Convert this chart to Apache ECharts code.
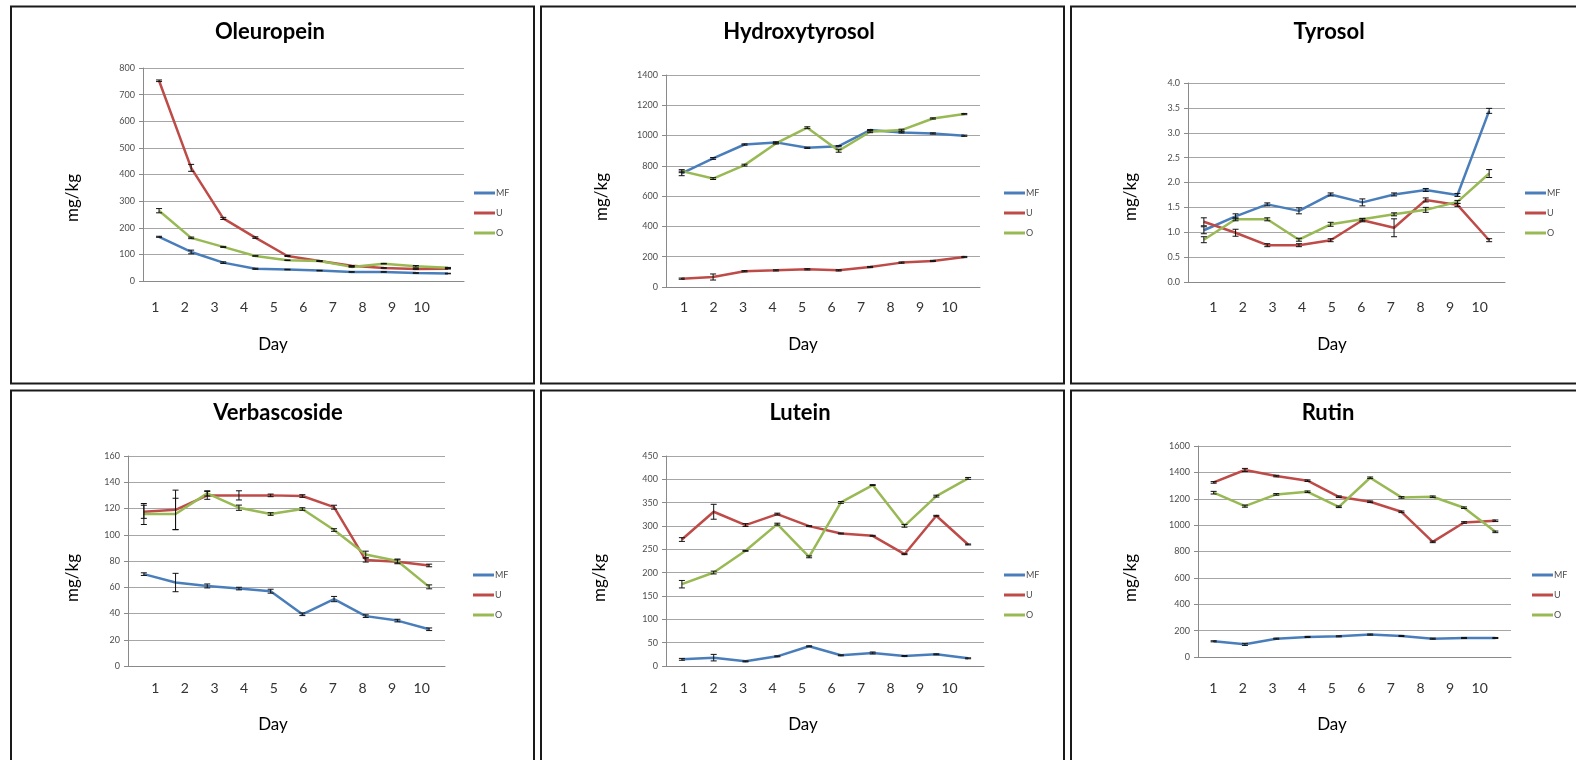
<!DOCTYPE html>
<html><head><meta charset="utf-8">
<script src="https://cdn.jsdelivr.net/npm/echarts@6/dist/echarts.min.js"></script>
<style>html,body{margin:0;padding:0;background:#fff}#c{width:1576px;height:760px}</style>
</head><body><div id="c"></div>
<script>
// ---------- data ----------
const days = ['1','2','3','4','5','6','7','8','9','10'];
const seriesNames = ['MF','U','O'];

const oleuropeinMF = [166,109,69,46,43,39,34,34,30,28];
const oleuropeinU  = [752,425,235,163,94,75,57,49,45,46];
const oleuropeinO  = [264,162,128,94,78,75,53,65,55,50];
const oleuropeinErrMF = [2,7,3,2,1,1,1,1,1,1];
const oleuropeinErrU  = [3,13,4,3,2,1,1,1,1,1];
const oleuropeinErrO  = [8,3,2,1,1,1,1,1,3,1];

const hydroxytyrosolMF = [750,849,941,955,919,930,1036,1021,1014,999];
const hydroxytyrosolU  = [55,66,104,110,117,110,132,161,172,198];
const hydroxytyrosolO  = [765,716,805,948,1052,900,1025,1036,1113,1142];
const hydroxytyrosolErrMF = [15,6,4,4,4,4,4,4,4,4];
const hydroxytyrosolErrU  = [4,20,4,4,4,4,4,4,4,4];
const hydroxytyrosolErrO  = [10,6,6,4,6,10,6,6,4,4];

const tyrosolMF = [1.04,1.32,1.56,1.43,1.76,1.60,1.76,1.85,1.75,3.44];
const tyrosolU  = [1.21,0.99,0.74,0.74,0.84,1.24,1.09,1.65,1.55,0.84];
const tyrosolO  = [0.85,1.26,1.26,0.85,1.16,1.26,1.36,1.45,1.61,2.18];
const tyrosolErrMF = [0.07,0.05,0.03,0.06,0.03,0.07,0.03,0.03,0.03,0.05];
const tyrosolErrU  = [0.08,0.07,0.03,0.03,0.03,0.03,0.18,0.04,0.03,0.03];
const tyrosolErrO  = [0.06,0.03,0.03,0.03,0.04,0.02,0.03,0.05,0.03,0.08];

const verbascosideMF = [70,63.6,61,59,57,39.4,51,38,34.6,28];
const verbascosideU  = [117.5,119,130,130,130,129.5,121,80.7,79.4,76.6];
const verbascosideO  = [115.8,115.8,131.5,120.6,115.8,119.6,103.6,85,80,60.3];
const verbascosideErrMF = [1,7,1.5,1,1.5,1,2,1,1,1];
const verbascosideErrU  = [5,15,3,3.5,1,1,1.5,1.5,1.5,1];
const verbascosideErrO  = [8,12,2,2,1,1,1,2.5,1.5,1.5];

const luteinMF = [14.3,17.9,10,20.7,42.2,22.9,27.9,21.5,25,16.5];
const luteinU  = [271,330.5,302,325.5,299.7,284,279,239.6,321.9,260.4];
const luteinO  = [175.3,200.3,246.8,304,233.9,350.5,387.7,300.4,364,402];
const luteinErrMF = [2,7,1,1,1,1,2,1,1,1];
const luteinErrU  = [4,16,3,2,1,1,1,1,1,1];
const luteinErrO  = [8,3,1,2,2,2,1,3,2,2];

const rutinMF = [119,96,139,152,157,170,159.5,139,144,144];
const rutinU  = [1324,1418,1372,1337,1215,1177,1101,873,1020,1033];
const rutinO  = [1246,1144,1233,1253,1139,1359,1210,1215,1132,949];
const rutinErrMF = [4,8,4,4,4,4,4,4,4,4];
const rutinErrU  = [6,12,6,6,6,6,6,6,6,6];
const rutinErrO  = [10,8,6,6,6,6,6,6,6,6];

// ---------- layout ----------
const colors = {MF:'#4A7EBB', U:'#BE4B48', O:'#98B954'};
const FONT = 'Lato, "Open Sans", sans-serif';

const panels = [
  {title:'Oleuropein', vals:[oleuropeinMF,oleuropeinU,oleuropeinO], errs:[oleuropeinErrMF,oleuropeinErrU,oleuropeinErrO],
   max:800, interval:100, dec:0, grid:{left:143,top:68,width:321,height:213}, lab:{left:140.5,width:296,y:307},
   t:[270,32], yn:[73,198], dn:[273,345], lg:[469,188], box:[11,6.5]},
  {title:'Hydroxytyrosol', vals:[hydroxytyrosolMF,hydroxytyrosolU,hydroxytyrosolO], errs:[hydroxytyrosolErrMF,hydroxytyrosolErrU,hydroxytyrosolErrO],
   max:1400, interval:200, dec:0, grid:{left:666,top:75,width:314,height:212}, lab:{left:669.3,width:295,y:307},
   t:[799,32], yn:[602,197], dn:[803,345], lg:[999,188], box:[541,6.5]},
  {title:'Tyrosol', vals:[tyrosolMF,tyrosolU,tyrosolO], errs:[tyrosolErrMF,tyrosolErrU,tyrosolErrO],
   max:4, interval:0.5, dec:1, grid:{left:1188,top:83,width:317,height:199}, lab:{left:1198.5,width:296,y:307},
   t:[1329,32], yn:[1131,197], dn:[1332,345], lg:[1520,188], box:[1071,6.5]},
  {title:'Verbascoside', vals:[verbascosideMF,verbascosideU,verbascosideO], errs:[verbascosideErrMF,verbascosideErrU,verbascosideErrO],
   max:160, interval:20, dec:0, grid:{left:128,top:456,width:317,height:210}, lab:{left:140.5,width:296,y:688},
   t:[278,413], yn:[73,578], dn:[273,725], lg:[468,570], box:[11,390.5]},
  {title:'Lutein', vals:[luteinMF,luteinU,luteinO], errs:[luteinErrMF,luteinErrU,luteinErrO],
   max:450, interval:50, dec:0, grid:{left:666,top:456,width:318,height:210}, lab:{left:669.3,width:295,y:688},
   t:[800,413], yn:[600,578], dn:[803,725], lg:[999,570], box:[541,390.5]},
  {title:'Rutin', vals:[rutinMF,rutinU,rutinO], errs:[rutinErrMF,rutinErrU,rutinErrO],
   max:1600, interval:200, dec:0, grid:{left:1198,top:446,width:313,height:211}, lab:{left:1198.5,width:296,y:688},
   t:[1328,413], yn:[1131,578], dn:[1332,725], lg:[1527,570], box:[1071,390.5]}
];

function errRender(params, api) {
  const i = api.value(0), v = api.value(1), e = api.value(2);
  if (!e) return null;
  const a = api.coord([i, v + e]), b = api.coord([i, v - e]);
  const x = a[0], w = 3;
  const st = {stroke:'#111', lineWidth:1};
  return {type:'group', children:[
    {type:'line', shape:{x1:x,y1:a[1],x2:x,y2:b[1]}, style:st},
    {type:'line', shape:{x1:x-w,y1:a[1],x2:x+w,y2:a[1]}, style:st},
    {type:'line', shape:{x1:x-w,y1:b[1],x2:x+w,y2:b[1]}, style:st}
  ]};
}

const grid = [], xAxis = [], yAxis = [], series = [], legend = [], graphic = [];
panels.forEach((p, k) => {
  const gi = grid.length;
  grid.push(Object.assign({containLabel:false}, p.grid));
  xAxis.push({type:'category', gridIndex:gi, data:days, boundaryGap:true,
    axisLine:{show:true, lineStyle:{color:'#8a8a8a', width:1}}, axisTick:{show:false}, axisLabel:{show:false}});
  yAxis.push({type:'value', gridIndex:gi, min:0, max:p.max, interval:p.interval,
    axisLine:{show:true, lineStyle:{color:'#8a8a8a', width:1}},
    axisTick:{show:true, length:4, lineStyle:{color:'#8a8a8a'}},
    splitLine:{show:true, lineStyle:{color:'#a6a6a6', width:1}},
    axisLabel:{fontSize:9, color:'#4d4d4d', margin:8, fontFamily:FONT,
      formatter: v => v.toFixed(p.dec)}});
  // label-only axis grid
  const li = grid.length;
  grid.push({left:p.lab.left, width:p.lab.width, top:p.lab.y - 20, height:10});
  xAxis.push({type:'category', gridIndex:li, data:days, boundaryGap:true,
    axisLine:{show:false}, axisTick:{show:false},
    axisLabel:{show:true, interval:0, fontSize:14, color:'#333', margin:3, fontFamily:FONT}});
  yAxis.push({type:'value', gridIndex:li, show:false});

  seriesNames.forEach((n, j) => {
    series.push({type:'line', name:n, xAxisIndex:gi, yAxisIndex:gi, data:p.vals[j],
      symbol:'none', smooth:false, lineStyle:{color:colors[n], width:2.5}, itemStyle:{color:colors[n]},
      z:2, silent:true, animation:false});
  });
  seriesNames.forEach((n, j) => {
    series.push({type:'custom', name:'err'+n, xAxisIndex:gi, yAxisIndex:gi,
      data:p.vals[j].map((v, i) => [i, v, p.errs[j][i]]), encode:{x:0, y:1},
      renderItem:errRender, z:5, silent:true, animation:false});
  });
  legend.push({data:seriesNames, orient:'vertical', left:p.lg[0], top:p.lg[1]-6,
    icon:'rect', itemWidth:21, itemHeight:3, itemGap:8, selectedMode:false,
    textStyle:{fontSize:9, color:'#4d4d4d', fontFamily:FONT, lineHeight:12, padding:[0,0,0,-4]}});

  graphic.push({type:'rect', shape:{x:p.box[0], y:p.box[1], width:523, height:377},
    style:{fill:'none', stroke:'#1a1a1a', lineWidth:2}, silent:true});
  graphic.push({type:'text', x:p.t[0], y:p.t[1], style:{text:p.title, font:'bold 22px '+FONT,
    fill:'#000', textAlign:'center', textVerticalAlign:'middle'}});
  graphic.push({type:'text', x:p.yn[0], y:p.yn[1], rotation:Math.PI/2, style:{text:'mg/kg', font:'17px '+FONT,
    fill:'#000', textAlign:'center', textVerticalAlign:'middle'}});
  graphic.push({type:'text', x:p.dn[0], y:p.dn[1], style:{text:'Day', font:'17px '+FONT,
    fill:'#000', textAlign:'center', textVerticalAlign:'middle'}});
});

const chart = echarts.init(document.getElementById('c'), null, {renderer:'canvas'});
chart.setOption({animation:false, backgroundColor:'#fff', grid, xAxis, yAxis, series, legend, graphic});
</script></body></html>
